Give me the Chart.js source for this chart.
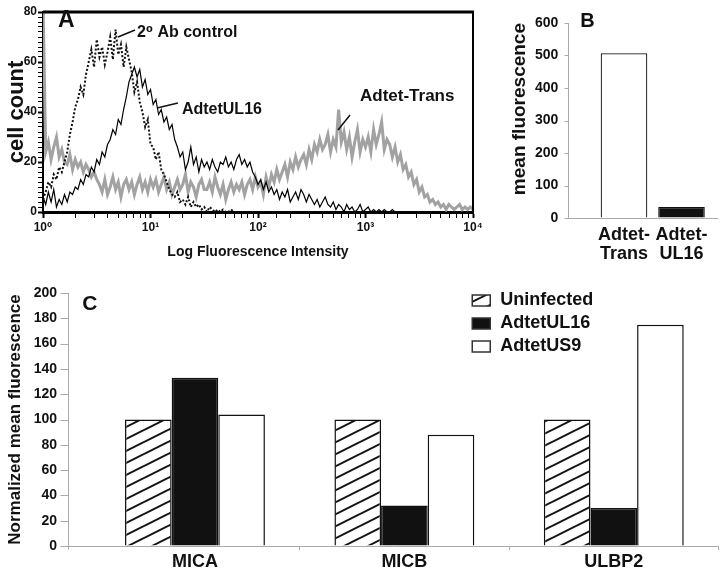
<!DOCTYPE html>
<html>
<head>
<meta charset="utf-8">
<script src="https://cdn.jsdelivr.net/npm/chart.js@4.4.1/dist/chart.umd.min.js"></script>
<style>
body { margin: 0; background: #fff; }
#wrap { position: relative; width: 720px; height: 572px; overflow: hidden; }
canvas { position: absolute; }
</style>
</head>
<body>
<div id="wrap">
  <canvas id="histA" width="490" height="265" style="left:0;top:0"></canvas>
  <canvas id="barB" width="240" height="272" style="left:480px;top:0"></canvas>
  <canvas id="barC" width="720" height="310" style="left:0;top:262px"></canvas>
</div>
<script>
// ---- panel A: flow histograms (log channels) ----
const channels = [
  1, 1.059, 1.122, 1.189, 1.259, 1.334, 1.413, 1.496, 1.585, 1.679, 1.778, 1.884, 1.995, 2.113, 2.239, 2.371, 2.512, 2.661, 2.818, 2.985,
  3.162, 3.350, 3.548, 3.758, 3.981, 4.217, 4.467, 4.732, 5.012, 5.309, 5.623, 5.957, 6.310, 6.683, 7.079, 7.499, 7.943, 8.414, 8.913, 9.441,
  10, 10.59, 11.22, 11.89, 12.59, 13.34, 14.13, 14.96, 15.85, 16.79, 17.78, 18.84, 19.95, 21.13, 22.39, 23.71, 25.12, 26.61, 28.18, 29.85,
  31.62, 33.50, 35.48, 37.58, 39.81, 42.17, 44.67, 47.32, 50.12, 53.09, 56.23, 59.57, 63.10, 66.83, 70.79, 74.99, 79.43, 84.14, 89.13, 94.41,
  100, 105.9, 112.2, 118.9, 125.9, 133.4, 141.3, 149.6, 158.5, 167.9, 177.8, 188.4, 199.5, 211.3, 223.9, 237.1, 251.2, 266.1, 281.8, 298.5,
  316.2, 335.0, 354.8, 375.8, 398.1, 421.7, 446.7, 473.2, 501.2, 530.9, 562.3, 595.7, 631.0, 668.3, 707.9, 749.9, 794.3, 841.4, 891.3, 944.1,
  1000, 1059, 1122, 1189, 1259, 1334, 1413, 1496, 1585, 1679, 1778, 1884, 1995, 2113, 2239, 2371, 2512, 2661, 2818, 2985,
  3162, 3350, 3548, 3758, 3981, 4217, 4467, 4732, 5012, 5309, 5623, 5957, 6310, 6683, 7079, 7499, 7943, 8414, 8913, 9441,
  10000
];

const transCounts = [
  85, 24, 28, 21, 26, 30, 22, 25, 20,
  19, 23, 17, 21, 18, 20, 16, 19,
  17, 14, 16, 13,
  11, 8, 13, 7, 10, 14, 9, 12, 6, 11, 13, 9,
  12, 7, 11, 14, 9, 12, 8, 13,
  10, 13, 8, 11, 14, 9, 12, 7, 10, 13, 9, 11, 15, 8, 12, 10, 6, 11, 13, 9,
  9, 12, 8, 14, 10, 7, 11, 5, 9, 12, 8, 11,
  9, 12, 7, 11, 13, 9, 14, 10,
  12, 7, 14, 10, 15, 12, 17, 13,
  16, 19, 14, 20, 17, 22, 18, 21,
  23, 19, 25, 21, 27, 24, 29, 25,
  27, 31, 24, 29, 26, 41, 28, 32,
  25, 30, 22, 28, 33, 24, 29, 26,
  30, 24, 33, 27, 31, 36, 25, 29,
  27, 22, 26, 20, 23, 17, 19, 14,
  16, 11, 13, 8, 10, 6, 7, 4,
  5, 3, 4, 2, 3, 1, 3, 2, 1, 2, 3, 1, 2, 1, 2, 1
];

const ul16Counts = [
  6, 3, 8, 4, 9, 2,
  5, 3, 7, 4, 8,
  7, 10, 9, 13, 11, 15,
  14, 18, 16, 21, 19, 24, 22, 27,
  29, 33, 31, 37, 35, 41,
  46, 52, 55, 58, 54, 57,
  50, 53, 47, 49, 43, 45,
  39, 41, 36, 38, 33, 35,
  29, 26, 22, 24, 17, 20,
  26, 19, 22, 16, 21, 18,
  20, 17, 21, 18, 16, 20, 19, 22, 18, 20, 17, 21,
  23, 19, 21, 18, 20, 16,
  14, 11, 13, 9, 12, 8,
  10, 7, 9, 5, 8, 6, 9, 4,
  6, 8, 5, 9, 7, 4, 7, 5,
  3, 5, 2, 4, 6, 3, 2, 4, 1, 3,
  2, 0, 3, 1, 2, 0, 1, 3, 0, 1, 2, 0, 1, 0, 1,
  0, 1, 0, 0, 1, 0, 0, 0, 0, 0
];

const controlCounts = [
  5, 8, 12, 10, 15,
  13, 18, 16, 20,
  24, 31, 36, 42,
  45, 50, 47, 55,
  60, 65, 58, 69, 62, 66, 59, 64, 70, 61, 73, 63, 67, 58, 66, 61,
  56, 48, 52, 44,
  40, 34, 37, 27,
  26, 21, 24, 17, 15, 12, 9, 7,
  6, 8, 4, 5, 3, 6, 2, 4,
  2, 3, 1, 2, 0, 2, 1, 0, 1, 0,
  1, 0, 0, 1, 0, 0
];

// ---- panel B ----
const bLabels = [['Adtet-', 'Trans'], ['Adtet-', 'UL16']];
const bValues = [507, 34];

// ---- panel C ----
const cCategories = ['MICA', 'MICB', 'ULBP2'];
const uninfected = [100, 100, 100];
const adtetUL16 = [133, 32, 30];
const adtetUS9 = [104, 88, 175];

const FONT = '"Liberation Sans", Arial, "DejaVu Sans", sans-serif';
const INK = '#111';
const SUP = ['\u2070', '\u00b9', '\u00b2', '\u00b3', '\u2074'];

Chart.defaults.font.family = FONT;
Chart.defaults.color = INK;
Chart.defaults.animation = false;
Chart.defaults.responsive = false;
Chart.defaults.plugins.legend.display = false;
Chart.defaults.plugins.tooltip.enabled = false;

function isDecade(v) {
    const e = Math.log10(v);
    return Math.abs(e - Math.round(e)) < 1e-9;
}

function makeHatch() {
    const c = document.createElement('canvas');
    c.width = 24; c.height = 12;
    const g = c.getContext('2d');
    g.fillStyle = '#fff';
    g.fillRect(0, 0, 24, 12);
    g.strokeStyle = INK;
    g.lineWidth = 2;
    [-12, 0, 12].forEach(s => {
        g.beginPath();
        g.moveTo(-24, 24 + s);
        g.lineTo(48, -12 + s);
        g.stroke();
    });
    return g.createPattern(c, 'repeat');
}

// text + leader lines; A uses data coords, B/C use offsets from the plot area
function notesPlugin(lines, texts) {
    return {
        id: 'notes',
        afterDraw(chart) {
            const {ctx, chartArea: a, scales: {x, y}} = chart;
            ctx.save();
            ctx.fillStyle = INK;
            ctx.strokeStyle = INK;
            ctx.lineWidth = 1.5;
            ctx.textBaseline = 'middle';
            lines.forEach(l => {
                ctx.beginPath();
                ctx.moveTo(x.getPixelForValue(l[0]), y.getPixelForValue(l[1]));
                ctx.lineTo(x.getPixelForValue(l[2]), y.getPixelForValue(l[3]));
                ctx.stroke();
            });
            texts.forEach(t => {
                ctx.font = 'bold ' + t.size + 'px ' + FONT;
                const px = t.at ? x.getPixelForValue(t.at[0]) : a.left + t.dx;
                const py = t.at ? y.getPixelForValue(t.at[1]) : a.top + t.dy;
                ctx.fillText(t.text, px, py);
            });
            ctx.restore();
        }
    };
}

// thick box edges for panel A
function framePlugin(top, right) {
    return {
        id: 'frame',
        afterDatasetsDraw(chart) {
            const {ctx, chartArea: a} = chart;
            ctx.save();
            ctx.strokeStyle = '#000';
            ctx.lineWidth = top;
            ctx.beginPath();
            ctx.moveTo(a.left, a.top);
            ctx.lineTo(a.right + right / 2, a.top);
            ctx.stroke();
            ctx.lineWidth = right;
            ctx.beginPath();
            ctx.moveTo(a.right, a.top);
            ctx.lineTo(a.right, a.bottom);
            ctx.stroke();
            ctx.restore();
        }
    };
}

// value axis drawn a little left of the first category (Excel style)
function sideAxisPlugin(o) {
    return {
        id: 'sideAxis',
        beforeDatasetsDraw(chart) {
            const {ctx, chartArea: a, scales: {y}} = chart;
            const x0 = Math.round(a.left - o.gap) + 0.5;
            const by = Math.round(a.bottom) + 0.5;
            ctx.save();
            ctx.strokeStyle = o.color;
            ctx.lineWidth = 1;
            ctx.beginPath();
            ctx.moveTo(x0, a.top);
            ctx.lineTo(x0, by + (o.below || 0));
            y.ticks.forEach(t => {
                const py = Math.round(y.getPixelForValue(t.value)) + 0.5;
                ctx.moveTo(x0 - o.tick, py);
                ctx.lineTo(x0, py);
            });
            ctx.moveTo(x0, by);
            ctx.lineTo(a.right + (o.extend || 0), by);
            ctx.stroke();
            ctx.restore();
        }
    };
}

function boxLegendPlugin(dx, dy, step) {
    return {
        id: 'boxLegend',
        afterDraw(chart) {
            const {ctx, chartArea: a} = chart;
            ctx.save();
            ctx.font = 'bold 18px ' + FONT;
            ctx.textBaseline = 'middle';
            chart.data.datasets.forEach((ds, i) => {
                const x = a.left + dx;
                const y = a.top + dy + i * step;
                ctx.fillStyle = ds.backgroundColor;
                ctx.fillRect(x, y - 5.5, 18, 11);
                ctx.strokeStyle = '#333';
                ctx.lineWidth = 1.5;
                ctx.strokeRect(x, y - 5.5, 18, 11);
                ctx.fillStyle = INK;
                ctx.fillText(ds.label, x + 28, y);
            });
            ctx.restore();
        }
    };
}

// invisible tick marks push the labels away from the plot without adding layout padding
function spacerGrid(len) {
    return {display: true, drawOnChartArea: false, drawTicks: true, tickLength: len, tickColor: 'rgba(0,0,0,0)'};
}

function drawHistogram() {
    new Chart(document.getElementById('histA'), {
        type: 'line',
        data: {
            labels: channels,
            datasets: [
                {label: 'Adtet-Trans', data: transCounts, borderColor: '#a2a2a2', borderWidth: 3, order: 3},
                {label: '2\u00b0 Ab control', data: controlCounts, borderColor: '#111', borderWidth: 2, borderDash: [2, 2], order: 2},
                {label: 'AdtetUL16', data: ul16Counts, borderColor: '#000', borderWidth: 1.2, order: 1}
            ]
        },
        options: {
            layout: {padding: {top: 12, right: 17, left: 0, bottom: 0}},
            elements: {point: {radius: 0}, line: {tension: 0}},
            scales: {
                x: {
                    type: 'logarithmic',
                    min: 1,
                    max: 10000,
                    afterFit: s => { s.height = 53; },
                    border: {color: '#000', width: 3},
                    grid: {
                        drawOnChartArea: false,
                        tickLength: 6,
                        tickColor: '#000',
                        tickWidth: c => (c.tick && isDecade(c.tick.value)) ? 2 : 1
                    },
                    ticks: {
                        autoSkip: false,
                        maxRotation: 0,
                        padding: 2,
                        font: {size: 12, weight: 'bold'},
                        callback: v => isDecade(v) ? '10' + SUP[Math.round(Math.log10(v))] : ''
                    },
                    title: {display: true, text: 'Log Fluorescence Intensity', font: {size: 14, weight: 'bold'}, padding: {top: 0, bottom: 4}}
                },
                y: {
                    min: 0,
                    max: 80,
                    afterFit: s => { s.width = 43; },
                    border: {color: '#000', width: 2},
                    grid: {
                        drawOnChartArea: false,
                        tickLength: 5,
                        tickColor: '#000',
                        tickWidth: c => (c.tick && c.tick.value % 20 === 0) ? 2 : 1
                    },
                    ticks: {
                        stepSize: 2,
                        autoSkip: false,
                        padding: 1,
                        font: {size: 12, weight: 'bold'},
                        callback: v => v % 20 === 0 ? v : ''
                    },
                    title: {display: true, text: 'cell count', font: {size: 22, weight: 'bold'}, padding: {top: 4, bottom: 0}}
                }
            }
        },
        plugins: [
            framePlugin(3, 2),
            notesPlugin(
                [[4.99, 70, 7.18, 72.8], [11.5, 41.6, 18.0, 43.6], [555, 32.8, 718, 38.8]],
                [
                    {text: 'A', at: [1.38, 76.6], size: 23},
                    {text: '2\u2070 Ab control', at: [7.5, 71.6], size: 16},
                    {text: 'AdtetUL16', at: [19.6, 40.8], size: 16},
                    {text: 'Adtet-Trans', at: [889, 46.4], size: 17}
                ]
            )
        ]
    });
}

function drawMeanBars() {
    new Chart(document.getElementById('barB'), {
        type: 'bar',
        data: {
            labels: bLabels,
            datasets: [{
                data: bValues,
                backgroundColor: ['#fff', '#111'],
                borderColor: '#111',
                borderWidth: 1.2,
                categoryPercentage: 0.81,
                barPercentage: 1
            }]
        },
        options: {
            layout: {padding: {top: 23, right: 9.75, left: 0, bottom: 0}},
            scales: {
                x: {
                    afterFit: s => { s.height = 54; },
                    border: {display: false},
                    grid: {display: false},
                    ticks: {autoSkip: false, maxRotation: 0, minRotation: 0, padding: 0, font: {size: 18, weight: 'bold', lineHeight: 1.05}}
                },
                y: {
                    min: 0,
                    max: 600,
                    afterFit: s => { s.width = 115.25; },
                    border: {display: false},
                    grid: spacerGrid(37),
                    ticks: {stepSize: 100, padding: 0, font: {size: 14, weight: 'bold'}},
                    title: {display: true, text: 'mean fluorescence', align: 'end', font: {size: 19, weight: 'bold'}, padding: {top: 28, bottom: 0}}
                }
            }
        },
        plugins: [
            sideAxisPlugin({gap: 27.25, tick: 4, color: '#aaa', extend: 8}),
            notesPlugin([], [{text: 'B', dx: -15, dy: -1.5, size: 20}])
        ]
    });
}

function drawLigandBars() {
    const common = {borderColor: '#111', borderWidth: 1.5, categoryPercentage: 0.668, barPercentage: 1};
    new Chart(document.getElementById('barC'), {
        type: 'bar',
        data: {
            labels: cCategories,
            datasets: [
                Object.assign({label: 'Uninfected', data: uninfected, backgroundColor: makeHatch()}, common),
                Object.assign({label: 'AdtetUL16', data: adtetUL16, backgroundColor: '#111'}, common),
                Object.assign({label: 'AdtetUS9', data: adtetUS9, backgroundColor: '#fff'}, common)
            ]
        },
        options: {
            layout: {padding: {top: 31, right: 1.5, left: 0, bottom: 0}},
            scales: {
                x: {
                    afterFit: s => { s.height = 26; },
                    border: {display: false},
                    grid: {
                        drawOnChartArea: false,
                        offset: true,
                        tickLength: 4,
                        tickColor: c => c.index === 0 ? 'rgba(0,0,0,0)' : '#aaa'
                    },
                    ticks: {padding: 1, maxRotation: 0, font: {size: 18, weight: 'bold'}}
                },
                y: {
                    min: 0,
                    max: 200,
                    afterFit: s => { s.width = 90.25; },
                    border: {display: false},
                    grid: spacerGrid(33.25),
                    ticks: {stepSize: 20, padding: 0, font: {size: 14, weight: 'bold'}},
                    title: {display: true, text: 'Normalized mean fluorescence', font: {size: 17, weight: 'bold'}, padding: {top: 5, bottom: 0}}
                }
            }
        },
        plugins: [
            sideAxisPlugin({gap: 22.25, tick: 8, color: '#aaa', below: 3}),
            notesPlugin([], [{text: 'C', dx: -8, dy: 11.5, size: 21}]),
            boxLegendPlugin(382, 7.5, 23)
        ]
    });
}

drawHistogram();
drawMeanBars();
drawLigandBars();
</script>
</body>
</html>
